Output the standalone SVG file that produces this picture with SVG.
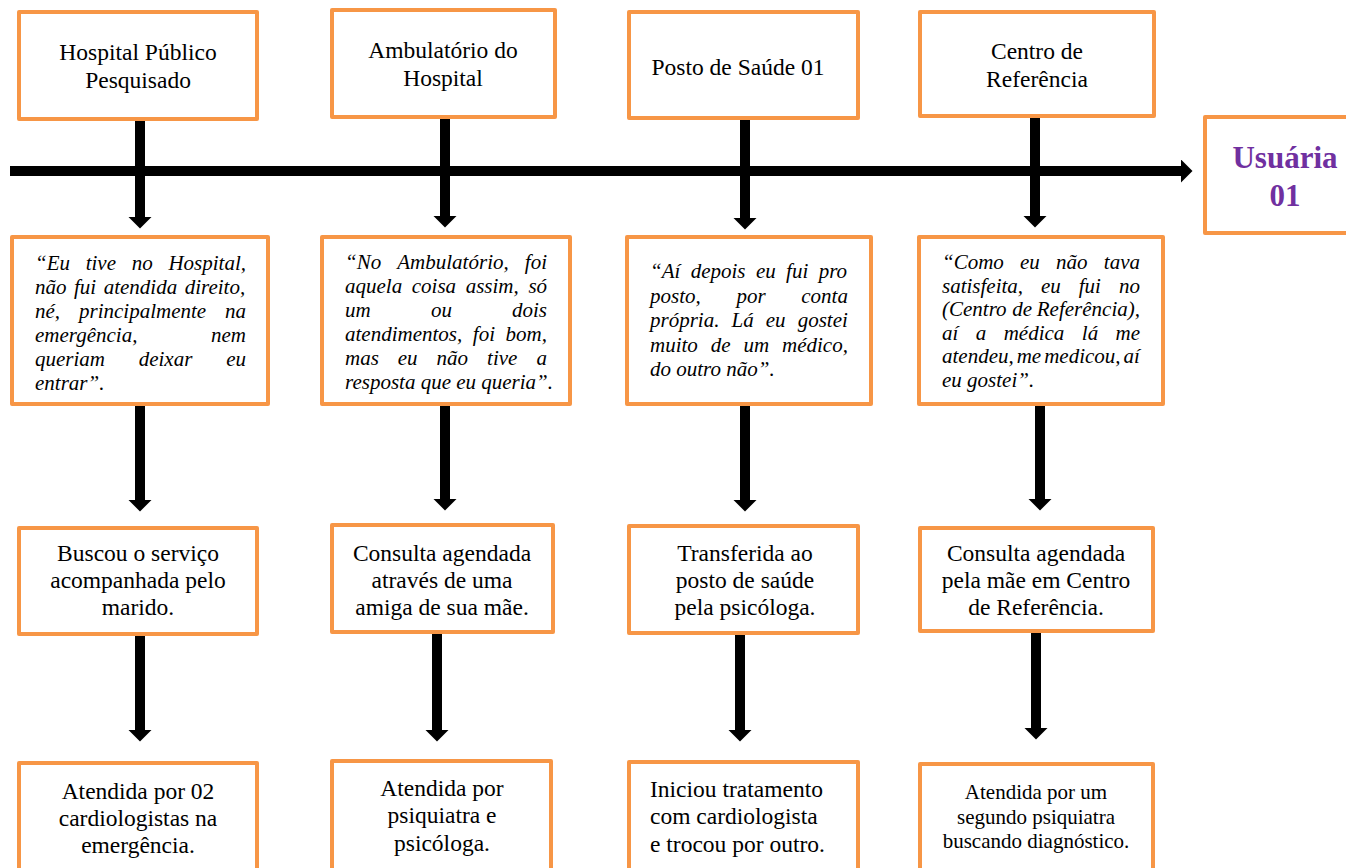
<svg xmlns="http://www.w3.org/2000/svg" width="1346" height="868" viewBox="0 0 1346 868">
<style>
.box{fill:#fff;stroke:#F79646;stroke-width:4;stroke-linejoin:round}
.t{font-family:"Liberation Serif","Times New Roman",serif;font-size:23.5px;fill:#000;text-anchor:middle}
.tl{font-family:"Liberation Serif","Times New Roman",serif;font-size:23.5px;fill:#000}
.q{font-family:"Liberation Serif","Times New Roman",serif;font-size:21px;font-style:italic;fill:#000}
.s{font-family:"Liberation Serif","Times New Roman",serif;font-size:21px;fill:#000;text-anchor:middle}
.u{font-family:"Liberation Serif","Times New Roman",serif;font-size:31px;font-weight:bold;fill:#7030A0;text-anchor:middle}
.c{stroke:#000;stroke-width:10;fill:none;marker-end:url(#ah)}
</style>
<defs>
<marker id="ah" markerUnits="userSpaceOnUse" viewBox="0 0 12 24" refX="0.5" refY="12" markerWidth="12" markerHeight="24" orient="auto">
<path d="M0,0 L12,12 L0,24 Z" fill="#000"/>
</marker>
</defs>
<rect width="1346" height="868" fill="#fff"/>

<g id="connectors">
<line class="c" x1="10" y1="171" x2="1181" y2="171"/>
<line class="c" x1="140" y1="121" x2="140" y2="217"/>
<line class="c" x1="445" y1="119" x2="445" y2="216"/>
<line class="c" x1="745" y1="120" x2="745" y2="218"/>
<line class="c" x1="1035" y1="118" x2="1035" y2="216"/>
<line class="c" x1="140" y1="405" x2="140" y2="500"/>
<line class="c" x1="445" y1="405" x2="445" y2="499"/>
<line class="c" x1="745" y1="405" x2="745" y2="500"/>
<line class="c" x1="1040" y1="405" x2="1040" y2="499"/>
<line class="c" x1="140" y1="635" x2="140" y2="730"/>
<line class="c" x1="437" y1="633" x2="437" y2="730"/>
<line class="c" x1="740" y1="634" x2="740" y2="730"/>
<line class="c" x1="1036" y1="632" x2="1036" y2="728"/>
</g>

<g id="hospital">
<rect class="box" x="19" y="12" width="238" height="107"/>
<text class="t" x="138" y="60">Hospital Público</text>
<text class="t" x="138" y="88">Pesquisado</text>
</g>
<g id="ambulatorio">
<rect class="box" x="332" y="10" width="223" height="107"/>
<text class="t" x="443" y="58">Ambulatório do</text>
<text class="t" x="443" y="86">Hospital</text>
</g>
<g id="posto">
<rect class="box" x="629" y="12" width="229" height="106"/>
<text class="t" x="738" y="75">Posto de Saúde 01</text>
</g>
<g id="centro">
<rect class="box" x="920" y="12" width="234" height="104"/>
<text class="t" x="1037" y="59">Centro de</text>
<text class="t" x="1037" y="87">Referência</text>
</g>
<g id="usuaria">
<rect class="box" x="1205" y="117" width="150" height="116"/>
<text class="u" x="1285" y="168">Usuária</text>
<text class="u" x="1285" y="206">01</text>
</g>

<g id="quote1">
<rect class="box" x="12" y="237" width="256" height="167"/>
<text class="q" y="270"><tspan x="35">“Eu</tspan><tspan x="85.7">tive</tspan><tspan x="131.7">no</tspan><tspan x="168.4">Hospital,</tspan></text>
<text class="q" y="294"><tspan x="35">não</tspan><tspan x="74">fui</tspan><tspan x="103.7">atendida</tspan><tspan x="184.7">direito,</tspan></text>
<text class="q" y="318"><tspan x="35">né,</tspan><tspan x="79">principalmente</tspan><tspan x="225">na</tspan></text>
<text class="q" y="342"><tspan x="35">emergência,</tspan><tspan x="211">nem</tspan></text>
<text class="q" y="366"><tspan x="35">queriam</tspan><tspan x="138.7">deixar</tspan><tspan x="226.2">eu</tspan></text>
<text class="q" x="35" y="390">entrar”.</text>
</g>
<g id="quote2">
<rect class="box" x="322" y="237" width="248" height="167"/>
<text class="q" y="269"><tspan x="345">“No</tspan><tspan x="397.3">Ambulatório,</tspan><tspan x="524.8">foi</tspan></text>
<text class="q" y="293"><tspan x="345">aquela</tspan><tspan x="411.8">coisa</tspan><tspan x="465.7">assim,</tspan><tspan x="528.4">só</tspan></text>
<text class="q" y="317"><tspan x="345">um</tspan><tspan x="430.9">ou</tspan><tspan x="512">dois</tspan></text>
<text class="q" y="341"><tspan x="345">atendimentos,</tspan><tspan x="472.8">foi</tspan><tspan x="505.6">bom,</tspan></text>
<text class="q" y="365"><tspan x="345">mas</tspan><tspan x="397.8">eu</tspan><tspan x="436.6">não</tspan><tspan x="487.1">tive</tspan><tspan x="536.4">a</tspan></text>
<text class="q" x="345" y="389">resposta que eu queria”.</text>
</g>
<g id="quote3">
<rect class="box" x="627" y="237" width="244" height="167"/>
<text class="q" y="278"><tspan x="650">“Aí</tspan><tspan x="690.7">depois</tspan><tspan x="755.9">eu</tspan><tspan x="786.1">fui</tspan><tspan x="818.7">pro</tspan></text>
<text class="q" y="302.5"><tspan x="650">posto,</tspan><tspan x="736.5">por</tspan><tspan x="801.3">conta</tspan></text>
<text class="q" y="327"><tspan x="650">própria.</tspan><tspan x="731.5">Lá</tspan><tspan x="765.8">eu</tspan><tspan x="797.7">gostei</tspan></text>
<text class="q" y="351.5"><tspan x="650">muito</tspan><tspan x="710.7">de</tspan><tspan x="743.4">um</tspan><tspan x="782">médico,</tspan></text>
<text class="q" x="650" y="376">do outro não”.</text>
</g>
<g id="quote4">
<rect class="box" x="919" y="237" width="244" height="167"/>
<text class="q" y="269"><tspan x="942">“Como</tspan><tspan x="1020">eu</tspan><tspan x="1056">não</tspan><tspan x="1103.8">tava</tspan></text>
<text class="q" y="292.6"><tspan x="942">satisfeita,</tspan><tspan x="1040.9">eu</tspan><tspan x="1078.7">fui</tspan><tspan x="1118.9">no</tspan></text>
<text class="q" y="316.2"><tspan x="942">(Centro</tspan><tspan x="1012.2">de</tspan><tspan x="1036.8">Referência),</tspan></text>
<text class="q" y="339.8"><tspan x="942">aí</tspan><tspan x="975.8">a</tspan><tspan x="1003.7">médica</tspan><tspan x="1081.8">lá</tspan><tspan x="1115.5">me</tspan></text>
<text class="q" y="363.4"><tspan x="942">atendeu,</tspan><tspan x="1016.7">me</tspan><tspan x="1044.2">medicou,</tspan><tspan x="1123.6">aí</tspan></text>
<text class="q" x="942" y="387">eu gostei”.</text>
</g>

<g id="step1a">
<rect class="box" x="19" y="528" width="238" height="106"/>
<text class="t" x="138" y="561">Buscou o serviço</text>
<text class="t" x="138" y="588">acompanhada pelo</text>
<text class="t" x="138" y="615">marido.</text>
</g>
<g id="step2a">
<rect class="box" x="332" y="525" width="221" height="107"/>
<text class="t" x="442" y="561">Consulta agendada</text>
<text class="t" x="442" y="588">através de uma</text>
<text class="t" x="442" y="615">amiga de sua mãe.</text>
</g>
<g id="step3a">
<rect class="box" x="629" y="526" width="229" height="107"/>
<text class="t" x="745" y="561">Transferida ao</text>
<text class="t" x="745" y="588">posto de saúde</text>
<text class="t" x="745" y="615">pela psicóloga.</text>
</g>
<g id="step4a">
<rect class="box" x="920" y="528" width="233" height="103"/>
<text class="t" x="1036" y="561">Consulta agendada</text>
<text class="t" x="1036" y="588">pela mãe em Centro</text>
<text class="t" x="1036" y="615">de Referência.</text>
</g>

<g id="step1b">
<rect class="box" x="19" y="763" width="238" height="120"/>
<text class="t" x="138" y="799">Atendida por 02</text>
<text class="t" x="138" y="826">cardiologistas na</text>
<text class="t" x="138" y="853">emergência.</text>
</g>
<g id="step2b">
<rect class="box" x="332" y="761" width="219" height="120"/>
<text class="t" x="442" y="796">Atendida por</text>
<text class="t" x="442" y="823">psiquiatra e</text>
<text class="t" x="442" y="851">psicóloga.</text>
</g>
<g id="step3b">
<rect class="box" x="629" y="762" width="229" height="120"/>
<text class="tl" x="650" y="797">Iniciou tratamento</text>
<text class="tl" x="650" y="824">com cardiologista</text>
<text class="tl" x="650" y="852">e trocou por outro.</text>
</g>
<g id="step4b">
<rect class="box" x="920" y="764" width="233" height="120"/>
<text class="s" x="1036" y="799">Atendida por um</text>
<text class="s" x="1036" y="824">segundo psiquiatra</text>
<text class="s" x="1036" y="848">buscando diagnóstico.</text>
</g>
</svg>
